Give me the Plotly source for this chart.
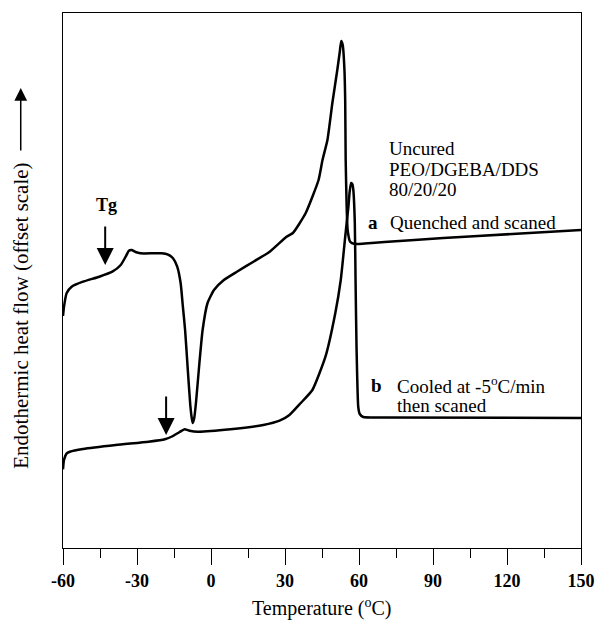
import plotly.graph_objects as go

# Curve a: quenched and scanned (temperature in deg C, heat flow in arbitrary offset units)
temp_a = [-60.0, -59.6, -58.5, -56.5, -51.9, -45.3, -40.0, -36.6, -34.6, -33.3, -32.2, -30.6,
          -28.6, -20.0, -17.4, -15.4, -13.7, -12.3, -11.4, -10.5, -9.4, -8.4, -7.8, -7.4,
          -6.8, -6.1, -4.7, -3.4, -1.4, 1.2, 5.2, 10.5, 17.2, 23.8, 30.5, 33.2, 38.4, 43.6,
          45.2, 47.2, 49.2, 51.2, 52.2, 52.8, 53.4, 54.1, 54.4, 54.6, 55.0, 55.4, 56.4, 58.3,
          62.3, 70.3, 94.2, 122.1, 150.0]
flow_a = [23.2, 24.13, 25.5, 26.13, 26.63, 27.13, 27.63, 28.3, 29.13, 29.73, 29.8, 29.6,
          29.47, 29.47, 29.33, 28.97, 28.13, 26.47, 24.13, 21.8, 17.8, 14.3, 13.0, 12.5,
          13.0, 14.5, 18.5, 21.8, 24.5, 25.8, 26.8, 27.63, 28.63, 29.63, 31.1, 31.5, 33.5, 36.8,
          38.8, 40.8, 44.5, 47.8, 49.6, 50.7, 50.3, 47.8, 44.8, 38.8, 34.1, 31.8, 30.63, 30.4,
          30.45, 30.6, 31.0, 31.4, 31.8]

# Curve b: cooled at -5 C/min then scanned
temp_b = [-60.0, -59.6, -58.5, -57.2, -51.9, -38.6, -25.3, -18.7, -15.4, -12.7, -10.7, -8.7,
          -5.4, 7.9, 21.2, 27.8, 31.8, 36.4, 41.1, 46.4, 50.4, 52.6, 54.4, 55.0, 55.7, 56.2,
          56.8, 57.3, 57.7, 58.3, 58.6, 59.0, 59.7, 60.3, 61.7, 70.3, 150.0]
flow_b = [7.87, 8.8, 9.47, 9.63, 9.9, 10.3, 10.63, 10.87, 11.2, 11.6, 11.87, 11.73,
          11.63, 11.87, 12.3, 12.73, 13.3, 14.5, 15.8, 19.13, 23.5, 26.8, 31.1, 32.5, 34.1, 35.6,
          36.5, 36.4, 35.8, 32.5, 26.8, 20.1, 14.1, 13.4, 13.1, 13.05, 13.0]

x_ticks = [-60, -30, 0, 30, 60, 90, 120, 150]
x_tick_labels = ["-60", "-30", "0", "30", "60", "90", "120", "150"]

# Glass transition markers (temperature, heat flow at arrow tip)
tg_a = (-42.9, 28.3)
tg_b = (-18.2, 11.3)

SERIF = "Liberation Serif, Times New Roman, serif"

fig = go.Figure()
for tx, fy in [(temp_a, flow_a), (temp_b, flow_b)]:
    fig.add_trace(go.Scatter(x=tx, y=fy, mode="lines",
                             line=dict(color="black", width=2.5, shape="spline", smoothing=0.5),
                             showlegend=False, hoverinfo="skip"))

fig.update_layout(
    width=607, height=630,
    margin=dict(l=63, r=17, t=13, b=82),
    paper_bgcolor="white", plot_bgcolor="white",
    font=dict(family=SERIF, color="black"),
    xaxis=dict(range=[-60, 150], tickvals=x_ticks, ticktext=x_tick_labels,
               ticks="outside", ticklen=16, tickwidth=1.3, tickcolor="black",
               minor=dict(dtick=15, tick0=-60, ticks="outside", ticklen=9,
                          tickwidth=1.3, tickcolor="black", showgrid=False),
               showline=True, linecolor="black", linewidth=1.4, mirror=True,
               showgrid=False, zeroline=False,
               tickfont=dict(family=SERIF, size=18, color="black", weight="bold")),
    yaxis=dict(range=[0, 53.5], showticklabels=False, ticks="",
               showline=True, linecolor="black", linewidth=1.4, mirror=True,
               showgrid=False, zeroline=False),
)

def paper(px, py):
    return (px - 63) / 527.0, (548 - py) / 535.0

ann = []
def text(s, px, py, size=19, anchor="left", bold=False, angle=0):
    x, y = paper(px, py)
    ann.append(dict(text=s, x=x, y=y, xref="paper", yref="paper", showarrow=False,
                    xanchor=anchor, yanchor="middle", textangle=angle,
                    font=dict(family=SERIF, size=size, color="black",
                              weight="bold" if bold else "normal")))

text("Uncured", 393, 148)
text("PEO/DGEBA/DDS", 393, 169)
text("80/20/20", 393, 190)
text("a", 371, 222, bold=True)
text("Quenched and scaned", 394, 222)
text("b", 374, 386, bold=True)
text("Cooled at -5<sup>o</sup>C/min", 401, 385)
text("then scaned", 401, 406)
text("Tg", 107, 205, size=18, anchor="center", bold=True)
text("Temperature (<sup>o</sup>C)", 326, 607, size=20, anchor="center")
text("Endothermic heat flow (offset scale)", 20, 316, size=21, anchor="center", angle=-90)

# arrows
for (tx, fy) in [tg_a, tg_b]:
    ann.append(dict(x=tx, y=fy, xref="x", yref="y", ax=0, ay=-40, axref="pixel", ayref="pixel",
                    text="", showarrow=True, arrowhead=2, arrowsize=1.7, arrowwidth=2,
                    arrowcolor="black"))
ax_x, ax_y = paper(20, 88)
ann.append(dict(x=ax_x, y=ax_y, xref="paper", yref="paper", ax=0, ay=64,
                text="", showarrow=True, arrowhead=2, arrowsize=1.7, arrowwidth=1.5,
                arrowcolor="black"))
fig.update_layout(annotations=ann)

fig.write_html("out.html")
